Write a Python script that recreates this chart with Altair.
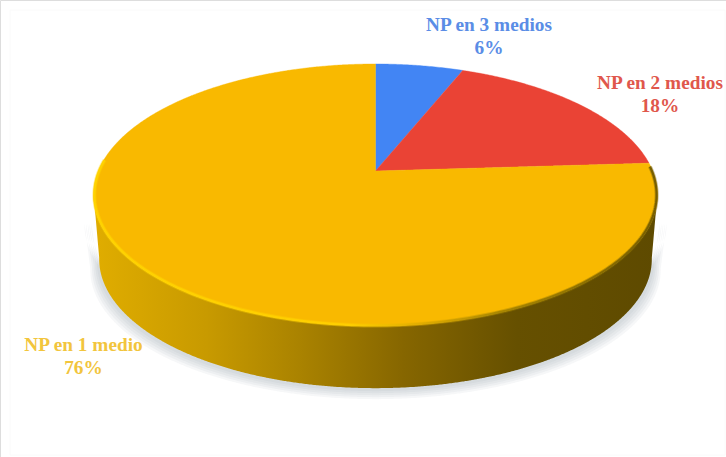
import altair as alt
import numpy as np
import pandas as pd

# Slice values, clockwise from twelve o'clock
names = ["NP en 3 medios", "NP en 2 medios", "NP en 1 medio"]
shares = [6, 18, 76]
fills = ["#4285f4", "#ea4335", "#f9b900"]
label_colors = ["#5a8de6", "#e0574c", "#f2c53d"]

W, H = 726, 457

# Perspective of the disc: apex in canvas units, half-axes and tilt strength
APEX_X, APEX_Y = 375.5, 171.0
AX, BY, TILT = 277.2, 126.6, 0.183


def project(theta_deg, sx=1.0, sy=1.0, dy=0.0):
    t = np.radians(theta_deg)
    d = 1 + TILT * np.cos(t)
    return (APEX_X + sx * AX * np.sin(t) / d,
            APEX_Y + dy - sy * BY * np.cos(t) / d)


def envelope(px, py):
    """Upper and lower bounds of a closed polygon for each x, as area-mark rows."""
    px, py = np.asarray(px), np.asarray(py)
    qx, qy = np.roll(px, -1), np.roll(py, -1)
    grid = np.unique(np.round(np.concatenate([px, px - 0.01, px + 0.01]), 3))
    grid = grid[(grid >= px.min()) & (grid <= px.max())]
    rows = []
    for x in grid:
        mask = (np.minimum(px, qx) <= x) & (x <= np.maximum(px, qx)) & (px != qx)
        if not mask.any():
            continue
        ys = py[mask] + (x - px[mask]) * (qy[mask] - py[mask]) / (qx[mask] - px[mask])
        rows.append({"x": float(x), "y": float(ys.min()), "y2": float(ys.max())})
    return pd.DataFrame(rows)


X = alt.X("x:Q", scale=alt.Scale(domain=[0, W], range=[0, W]), axis=None)
Y = alt.Y("y:Q", scale=alt.Scale(domain=[0, H], range=[0, H]), axis=None)

layers = []

# Faint frame of the chart area
frame = pd.DataFrame({"x": [10], "x2": [725], "y": [10], "y2": [455]})
layers.append(alt.Chart(frame).mark_rect(fill="#ffffff", stroke="#fafafa", strokeWidth=1)
              .encode(x=X, x2="x2:Q", y=Y, y2="y2:Q"))

# Side wall outline: front arc of the top face and front arc of the base
front = np.arange(100.0, 260.5, 0.5)
top_x, top_y = project(front)
base_x, base_y = project(front, sx=0.98, sy=0.985, dy=64.5)

# Soft drop shadow built from translucent offset copies of the wall
for grow, drop in [(1.032, 11), (1.026, 9), (1.02, 7), (1.014, 5), (1.008, 3)]:
    sx_ = APEX_X + (np.concatenate([top_x, base_x[::-1]]) - APEX_X) * grow
    sy_ = np.concatenate([top_y + 30, base_y[::-1] + drop])
    layers.append(alt.Chart(envelope(sx_, sy_)).mark_area(color="#7f8794", opacity=0.065)
                  .encode(x=X, y=Y, y2="y2:Q"))

wall_fill = alt.Gradient(
    gradient="linear", x1=0, x2=1, y1=0, y2=0,
    stops=[
        alt.GradientStop(offset=0.0, color="#e0ad00"),
        alt.GradientStop(offset=0.2, color="#c89a00"),
        alt.GradientStop(offset=0.37, color="#a98200"),
        alt.GradientStop(offset=0.55, color="#866600"),
        alt.GradientStop(offset=0.75, color="#665000"),
        alt.GradientStop(offset=1.0, color="#5e4a00"),
    ],
)
wall = envelope(np.concatenate([top_x, base_x[::-1]]),
                np.concatenate([top_y, base_y[::-1]]))
layers.append(alt.Chart(wall).mark_area(fill=wall_fill).encode(x=X, y=Y, y2="y2:Q"))

# Top face slices, each spanning the angle its share takes up
start = 0.0
for share, fill in zip(shares, fills):
    end = start + share * 3.6
    arc = np.linspace(start, end, int(share * 3.6 * 2) + 2)
    ax_, ay_ = project(arc)
    sector = envelope(np.concatenate([[APEX_X], ax_]), np.concatenate([[APEX_Y], ay_]))
    layers.append(alt.Chart(sector).mark_area(fill=fill, stroke=fill, strokeWidth=0.4)
                  .encode(x=X, y=Y, y2="y2:Q"))
    start = end

# Bevel along the front edge of the top face: soft outer pass, firmer inner pass
rim_stroke = alt.Gradient(
    gradient="linear", x1=0, x2=1, y1=0, y2=0,
    stops=[
        alt.GradientStop(offset=0.0, color="#ffd400"),
        alt.GradientStop(offset=0.45, color="#ffd000"),
        alt.GradientStop(offset=0.58, color="#e0ac00"),
        alt.GradientStop(offset=0.72, color="#a58400"),
        alt.GradientStop(offset=1.0, color="#6e5800"),
    ],
)
rim_angles = np.arange(88.0, 276.0, 1.0)
for width, alpha, scale in [(4.0, 0.4, 0.997), (2.2, 0.9, 0.997)]:
    rim_x, rim_y = project(rim_angles, sx=scale, sy=scale)
    rim = pd.DataFrame({"x": rim_x, "y": rim_y, "i": np.arange(len(rim_x))})
    layers.append(alt.Chart(rim).mark_line(stroke=rim_stroke, strokeWidth=width, opacity=alpha)
                  .encode(x=X, y=Y, order="i:Q"))

# Labels: name above, share below
label_anchor = [(489, 25), (660, 83), (83.5, 345)]
for name, share, color, (lx, ly) in zip(names, shares, label_colors, label_anchor):
    for text, yy in [(name, ly), (f"{share}%", ly + 23)]:
        layers.append(
            alt.Chart(pd.DataFrame({"t": [text]}))
            .mark_text(font="Liberation Serif", fontWeight="bold", fontSize=19.3,
                       color=color, align="center", baseline="middle")
            .encode(text="t:N", x=alt.value(lx), y=alt.value(yy))
        )

chart = (
    alt.layer(*layers)
    .properties(width=W, height=H, padding=0, autosize=alt.AutoSizeParams(type="none"))
    .configure_view(stroke=None)
    .configure(background="#ffffff")
)
chart.save("out.html", embed_options={"renderer": "svg", "actions": False})
